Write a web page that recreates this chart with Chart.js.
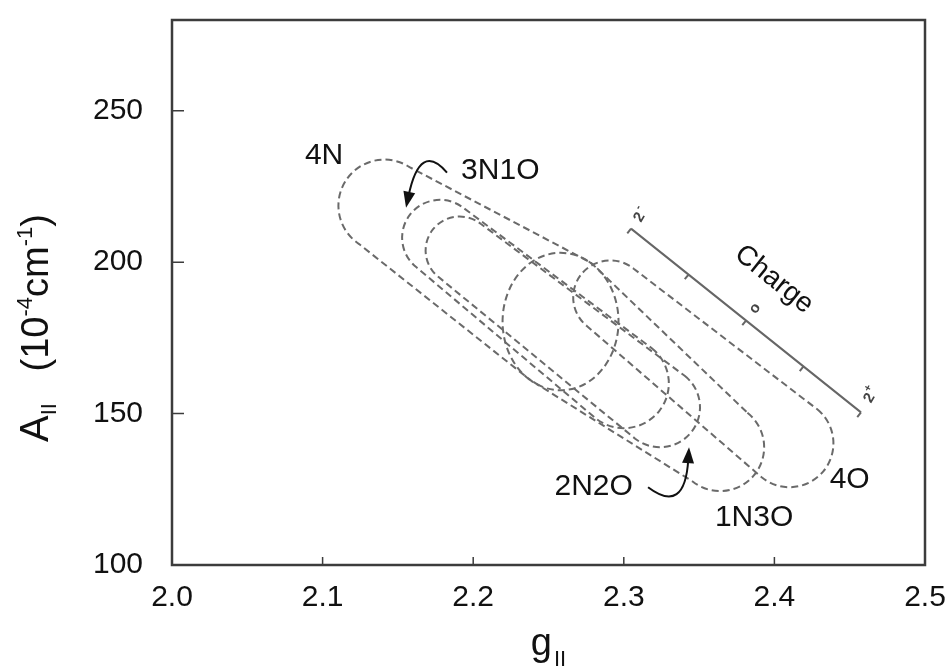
<!DOCTYPE html>
<html>
<head>
<meta charset="utf-8">
<script src="https://cdn.jsdelivr.net/npm/chart.js@4.4.1/dist/chart.umd.min.js"></script>
<style>
  html, body { margin: 0; padding: 0; background: #fff; }
</style>
</head>
<body>
<canvas id="chart" width="952" height="671"></canvas>
<script>
// Axis ticks
const xTicks = [2.0, 2.1, 2.2, 2.3, 2.4, 2.5];
const yTicks = [100, 150, 200, 250];

// Regions: upper-left cap -> lower-right cap (centre in g / A, half-size in g / A units)
const regionNames = ["4N", "3N1O", "2N2O", "1N3O", "4O"];
const startG  = [2.141, 2.178, 2.191, 2.258, 2.291];
const startA  = [218.7, 208.1, 203.9, 180.4, 188.4];
const startRg = [0.0305, 0.0252, 0.0226, 0.0385, 0.0246];
const startRa = [15.2, 12.5, 11.2, 22.7, 12.2];
const endG    = [2.258, 2.300, 2.324, 2.364, 2.410];
const endA    = [180.4, 160.0, 152.1, 138.9, 140.2];
const endRg   = [0.0385, 0.0299, 0.0266, 0.0292, 0.0292];
const endRa   = [22.7, 14.8, 13.2, 14.5, 14.5];

// Region labels
const labelG = [2.101, 2.218, 2.280, 2.3865, 2.450];
const labelA = [235.2, 230.2, 125.7, 115.5, 128.0];

// Curved arrows: start, control, tip
const arrowStartG = [2.1826, 2.3161];
const arrowStartA = [229.6, 125.7];
const arrowCtrlG  = [2.1647, 2.3406];
const arrowCtrlA  = [240.1, 116.5];
const arrowTipG   = [2.1554, 2.3433];
const arrowTipA   = [218.0, 138.9];

// Charge scale
const chargeG = [2.3048, 2.4575];
const chargeA = [211.1, 150.4];
const chargeTicks = [0.25, 0.5, 0.75];
const chargeMarks = ["2-", "o", "2+"];
const chargeMarkG = [2.3114, 2.3871, 2.4641];
const chargeMarkA = [215.7, 184.7, 156.0];
const chargeTextG = 2.3997;
const chargeTextA = 194.3;

const FONT = "'Liberation Sans', Arial, sans-serif";

function capsule(ctx, c1, r1, c2, r2) {
  const dx = c2.x - c1.x, dy = c2.y - c1.y;
  const t2 = Math.atan2(dy / r2.y, dx / r2.x);
  const t1 = Math.atan2(dy / r1.y, dx / r1.x);
  ctx.beginPath();
  ctx.ellipse(c2.x, c2.y, r2.x, r2.y, 0, t2 - Math.PI / 2, t2 + Math.PI / 2);
  ctx.ellipse(c1.x, c1.y, r1.x, r1.y, 0, t1 + Math.PI / 2, t1 + 3 * Math.PI / 2);
  ctx.closePath();
  ctx.stroke();
}

const figurePlugin = {
  id: "figure",
  afterDraw(chart) {
    const ctx = chart.ctx;
    const xs = chart.scales.x, ys = chart.scales.y;
    const area = chart.chartArea;
    const P = (g, a) => ({ x: xs.getPixelForValue(g), y: ys.getPixelForValue(a) });
    const R = (g, a, rg, ra) => ({
      x: Math.abs(xs.getPixelForValue(g + rg) - xs.getPixelForValue(g)),
      y: Math.abs(ys.getPixelForValue(a + ra) - ys.getPixelForValue(a))
    });

    ctx.save();

    // Frame and inner ticks
    ctx.strokeStyle = "#3c3c3c";
    ctx.lineWidth = 2.5;
    ctx.strokeRect(area.left, area.top, area.right - area.left, area.bottom - area.top);
    ctx.lineWidth = 1.5;
    ctx.beginPath();
    xTicks.slice(1, -1).forEach(v => {
      const px = xs.getPixelForValue(v);
      ctx.moveTo(px, area.bottom);
      ctx.lineTo(px, area.bottom - 8);
    });
    yTicks.slice(1).forEach(v => {
      const py = ys.getPixelForValue(v);
      ctx.moveTo(area.left, py);
      ctx.lineTo(area.left + 12, py);
    });
    ctx.stroke();

    // Dashed regions
    ctx.strokeStyle = "#6a6a6a";
    ctx.lineWidth = 2;
    ctx.setLineDash([7, 4]);
    regionNames.forEach((name, i) => {
      capsule(ctx,
        P(startG[i], startA[i]), R(startG[i], startA[i], startRg[i], startRa[i]),
        P(endG[i], endA[i]), R(endG[i], endA[i], endRg[i], endRa[i]));
    });
    ctx.setLineDash([]);

    // Region labels
    ctx.fillStyle = "#111";
    ctx.font = "30px " + FONT;
    ctx.textAlign = "center";
    ctx.textBaseline = "middle";
    regionNames.forEach((name, i) => {
      const p = P(labelG[i], labelA[i]);
      ctx.fillText(name, p.x, p.y);
    });

    // Curved arrows
    ctx.strokeStyle = "#111";
    ctx.lineWidth = 2;
    arrowStartG.forEach((g, i) => {
      const s = P(g, arrowStartA[i]);
      const c = P(arrowCtrlG[i], arrowCtrlA[i]);
      const t = P(arrowTipG[i], arrowTipA[i]);
      const ang = Math.atan2(t.y - c.y, t.x - c.x);
      const back = { x: t.x - 12 * Math.cos(ang), y: t.y - 12 * Math.sin(ang) };
      ctx.beginPath();
      ctx.moveTo(s.x, s.y);
      ctx.quadraticCurveTo(c.x, c.y, back.x, back.y);
      ctx.stroke();
      ctx.beginPath();
      ctx.moveTo(t.x, t.y);
      ctx.lineTo(t.x - 16 * Math.cos(ang) + 6 * Math.sin(ang), t.y - 16 * Math.sin(ang) - 6 * Math.cos(ang));
      ctx.lineTo(t.x - 16 * Math.cos(ang) - 6 * Math.sin(ang), t.y - 16 * Math.sin(ang) + 6 * Math.cos(ang));
      ctx.closePath();
      ctx.fill();
    });

    // Charge scale
    const c0 = P(chargeG[0], chargeA[0]);
    const c1 = P(chargeG[1], chargeA[1]);
    const len = Math.hypot(c1.x - c0.x, c1.y - c0.y);
    const ux = (c1.x - c0.x) / len, uy = (c1.y - c0.y) / len;
    ctx.strokeStyle = "#666";
    ctx.lineWidth = 2;
    ctx.beginPath();
    ctx.moveTo(c0.x, c0.y);
    ctx.lineTo(c1.x, c1.y);
    [0].concat(chargeTicks, [1]).forEach(f => {
      const px = c0.x + f * (c1.x - c0.x), py = c0.y + f * (c1.y - c0.y);
      ctx.moveTo(px, py);
      ctx.lineTo(px - uy * 6, py + ux * 6);
    });
    ctx.stroke();

    ctx.fillStyle = "#444";
    chargeMarks.forEach((m, i) => {
      const p = P(chargeMarkG[i], chargeMarkA[i]);
      ctx.save();
      ctx.translate(p.x, p.y);
      ctx.rotate(-Math.PI / 3);
      ctx.textAlign = "center";
      ctx.textBaseline = "middle";
      if (m === "o") {
        ctx.font = "bold 15px " + FONT;
        ctx.fillText("o", 0, 0);
      } else {
        ctx.font = "bold 15px " + FONT;
        ctx.fillText(m[0], -3, 0);
        ctx.font = "bold 11px " + FONT;
        ctx.fillText(m[1], 5, -6);
      }
      ctx.restore();
    });

    const ct = P(chargeTextG, chargeTextA);
    ctx.save();
    ctx.translate(ct.x, ct.y);
    ctx.rotate(Math.atan2(uy, ux));
    ctx.fillStyle = "#111";
    ctx.font = "28px " + FONT;
    ctx.textAlign = "center";
    ctx.textBaseline = "middle";
    ctx.fillText("Charge", 0, 0);
    ctx.restore();

    // Axis titles with sub/superscripts
    ctx.fillStyle = "#111";
    ctx.textAlign = "left";
    ctx.textBaseline = "alphabetic";
    const cx = (area.left + area.right) / 2;
    ctx.font = "38px " + FONT;
    const gw = ctx.measureText("g").width;
    ctx.font = "22px " + FONT;
    const iw = ctx.measureText("II").width;
    ctx.font = "38px " + FONT;
    ctx.fillText("g", cx - (gw + iw + 2) / 2, 655);
    ctx.font = "22px " + FONT;
    ctx.fillText("II", cx - (gw + iw + 2) / 2 + gw + 2, 666);

    ctx.save();
    ctx.translate(48, 442);
    ctx.rotate(-Math.PI / 2);
    const parts = [
      ["A", 40, 0], ["II", 22, 8], ["   (10", 38, 0], ["-4", 22, -16],
      ["cm", 38, 0], ["-1", 22, -16], [")", 38, 0]
    ];
    let xpos = 0;
    parts.forEach(([txt, size, dy]) => {
      ctx.font = size + "px " + FONT;
      ctx.fillText(txt, xpos, dy);
      xpos += ctx.measureText(txt).width;
    });
    ctx.restore();

    ctx.restore();
  }
};

const chart = new Chart(document.getElementById("chart"), {
  type: "scatter",
  data: { datasets: [] },
  options: {
    responsive: false,
    animation: false,
    devicePixelRatio: 1,
    layout: { padding: { top: 20, right: 27, left: 0, bottom: 0 } },
    plugins: {
      legend: { display: false },
      tooltip: { enabled: false }
    },
    scales: {
      x: {
        type: "linear",
        min: 2.0,
        max: 2.5,
        afterBuildTicks: s => { s.ticks = xTicks.map(v => ({ value: v })); },
        afterFit: s => { s.height = 106; s.paddingLeft = 0; s.paddingRight = 0; },
        grid: { display: false, drawTicks: false },
        border: { display: false },
        ticks: {
          color: "#111",
          font: { family: FONT, size: 30 },
          padding: 15,
          maxRotation: 0,
          callback: v => Number(v).toFixed(1)
        }
      },
      y: {
        type: "linear",
        min: 100,
        max: 280,
        afterBuildTicks: s => { s.ticks = yTicks.map(v => ({ value: v })); },
        afterFit: s => { s.width = 172; s.paddingTop = 0; s.paddingBottom = 0; },
        grid: { display: false, drawTicks: false },
        border: { display: false },
        ticks: {
          color: "#111",
          font: { family: FONT, size: 30 },
          padding: 29,
          callback: v => String(v)
        }
      }
    }
  },
  plugins: [figurePlugin]
});
</script>
</body>
</html>
